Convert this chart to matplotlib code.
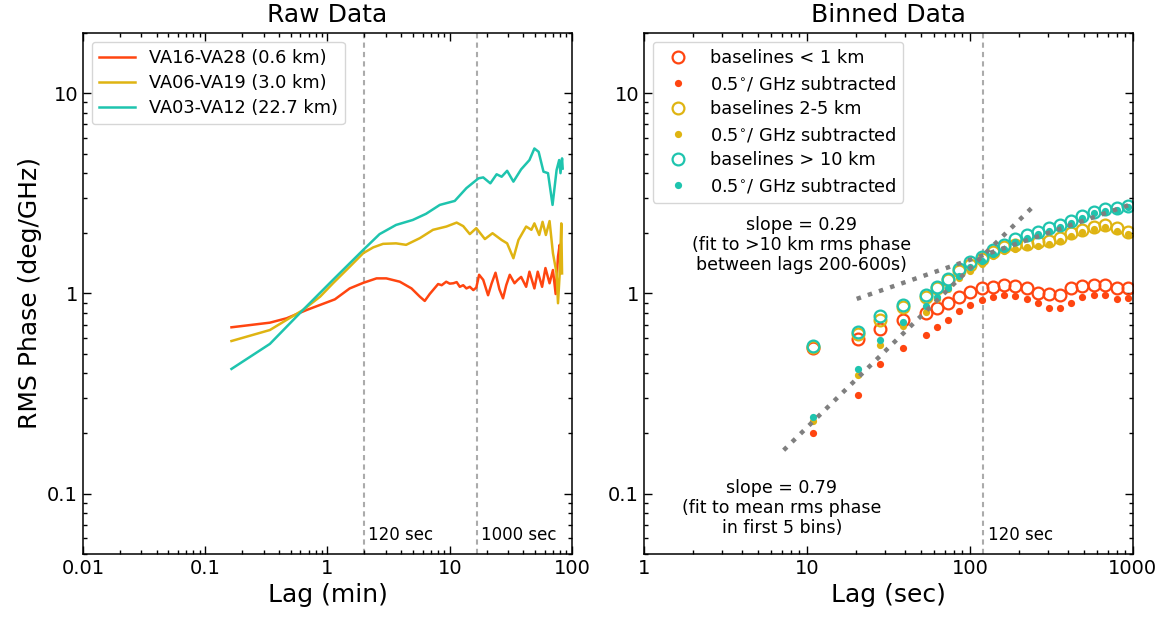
import matplotlib
matplotlib.use("Agg")
import matplotlib.pyplot as plt
from matplotlib.ticker import FixedLocator, FixedFormatter, LogLocator, NullFormatter

plt.rcParams['font.family'] = ['DejaVu Sans']

# ---------------- Raw data (lag in minutes, rms phase deg/GHz) ----------------
red_lag = [0.164, 0.338, 0.463, 0.675, 1.15, 1.52, 1.96, 2.52, 3.03, 3.91, 4.87, 5.7, 6.25,
           6.86, 7.4, 8.04, 8.6, 9.36, 10.0, 10.7, 11.4, 12.1, 12.9, 13.7, 14.6, 15.6, 16.5,
           17.4, 18.8, 20.6, 22.0, 23.7, 25.5, 27.3, 29.0, 31.0, 33.9, 36.0, 38.4, 42.2, 44.9,
           49.3, 52.5, 57.0, 60.7, 65.6, 69.9, 73.6, 76.9, 79.4, 80.6, 82.0]
red_val = [0.678, 0.715, 0.752, 0.827, 0.935, 1.06, 1.13, 1.19, 1.19, 1.145, 1.06, 0.964, 0.918,
           0.994, 1.05, 1.115, 1.10, 1.145, 1.12, 1.125, 1.14, 1.08, 1.10, 1.06, 1.08, 1.04, 1.07,
           1.24, 1.17, 0.98, 1.12, 1.27, 1.05, 0.946, 1.10, 1.24, 1.125, 1.17, 1.21, 1.08, 1.285,
           1.06, 1.285, 1.08, 1.34, 1.125, 1.31, 0.994, 1.53, 1.75, 1.26, 1.30]

yel_lag = [0.164, 0.338, 0.63, 0.87, 1.11, 1.52, 1.96, 2.37, 2.85, 3.64, 4.4, 5.7, 7.3, 9.4,
           11.4, 12.9, 14.6, 16.5, 19.4, 22.4, 26.6, 29.5, 33.2, 36.5, 42.2, 46.6, 49.3, 54.0,
           57.5, 61.2, 65.6, 69.9, 74.9, 76.9, 79.4, 81.8, 83.0]
yel_val = [0.579, 0.657, 0.827, 0.964, 1.125, 1.36, 1.59, 1.70, 1.77, 1.78, 1.75, 1.89, 2.08, 2.16,
           2.26, 2.17, 1.98, 2.12, 1.87, 2.0, 1.85, 1.78, 1.50, 1.85, 2.16, 2.08, 2.24, 1.96,
           2.28, 1.96, 2.30, 1.59, 1.26, 0.894, 1.26, 2.24, 1.26]

cya_lag = [0.164, 0.338, 0.63, 1.11, 1.96, 2.67, 3.64, 4.99, 6.4, 8.3, 11.0, 13.7, 17.2, 18.8,
           21.5, 24.2, 26.6, 29.5, 33.2, 38.4, 44.9, 49.3, 53.4, 58.5, 63.7, 69.4, 74.9, 78.6,
           80.6, 83.0, 84.0]
cya_val = [0.42, 0.56, 0.827, 1.17, 1.65, 1.98, 2.2, 2.33, 2.5, 2.77, 2.9, 3.36, 3.76, 3.8,
           3.55, 3.94, 3.83, 4.1, 3.62, 4.17, 4.64, 5.3, 5.1, 4.06, 3.99, 2.77, 4.14, 4.64,
           3.99, 4.73, 4.21]

raw_labels = ['VA16-VA28 (0.6 km)', 'VA06-VA19 (3.0 km)', 'VA03-VA12 (22.7 km)']

# ---------------- Binned data (lag in seconds) ----------------
bin_lag = [10.9, 20.5, 28.1, 38.8, 53.7, 62.8, 73.3, 85.6, 100, 118, 138, 162, 189, 224, 261,
           305, 357, 417, 487, 577, 673, 798, 931]
red_open = [0.537, 0.59, 0.667, 0.737, 0.796, 0.844, 0.894, 0.964, 1.02, 1.06, 1.08, 1.10, 1.09,
            1.06, 1.01, 0.99, 0.98, 1.06, 1.09, 1.10, 1.10, 1.07, 1.07]
red_sub = [0.20, 0.311, 0.445, 0.536, 0.62, 0.683, 0.737, 0.818, 0.876, 0.928, 0.957, 0.983, 0.97,
           0.94, 0.894, 0.85, 0.85, 0.894, 0.957, 0.983, 0.983, 0.935, 0.946]
yel_open = [0.54, 0.63, 0.74, 0.86, 0.96, 1.06, 1.17, 1.29, 1.39, 1.49, 1.62, 1.71, 1.75, 1.77,
            1.80, 1.83, 1.89, 2.00, 2.08, 2.15, 2.20, 2.12, 2.04]
yel_sub = [0.23, 0.39, 0.553, 0.69, 0.81, 0.935, 1.058, 1.189, 1.297, 1.404, 1.541, 1.635, 1.677,
           1.698, 1.729, 1.76, 1.823, 1.936, 2.019, 2.091, 2.142, 2.06, 1.978]
cya_open = [0.548, 0.644, 0.772, 0.873, 0.983, 1.08, 1.18, 1.32, 1.44, 1.53, 1.65, 1.75, 1.87,
            1.96, 2.04, 2.12, 2.2, 2.31, 2.44, 2.56, 2.63, 2.66, 2.74]
cya_sub = [0.241, 0.42, 0.586, 0.723, 0.866, 0.957, 1.069, 1.222, 1.35, 1.446, 1.572, 1.677, 1.802,
           1.895, 1.978, 2.06, 2.142, 2.255, 2.388, 2.511, 2.582, 2.613, 2.694]

bin_labels = ['baselines < 1 km', r'0.5$^{\circ}$/ GHz subtracted',
              'baselines 2-5 km', r'0.5$^{\circ}$/ GHz subtracted',
              'baselines > 10 km', r'0.5$^{\circ}$/ GHz subtracted']

# fitted power-law lines (endpoints)
fit_steep_lag = [7.2, 250]
fit_steep_val = [0.165, 2.77]
fit_shallow_lag = [20.2, 1000]
fit_shallow_val = [0.94, 2.81]

C_RED = '#ff4510'
C_YEL = '#dfb412'
C_CYA = '#1ec4ae'
C_GRID = '#ababab'

fig = plt.figure(figsize=(11.67, 6.24), dpi=100)
ax1 = fig.add_axes([0.0711, 0.1122, 0.4190, 0.8349])
ax2 = fig.add_axes([0.5518, 0.1122, 0.4190, 0.8349])


def style(ax, xt, xl):
    ax.set_xscale('log')
    ax.set_yscale('log')
    ax.set_ylim(0.05, 20)
    ax.xaxis.set_major_locator(FixedLocator(xt))
    ax.xaxis.set_major_formatter(FixedFormatter(xl))
    ax.xaxis.set_minor_locator(LogLocator(base=10, subs=range(2, 10), numticks=20))
    ax.xaxis.set_minor_formatter(NullFormatter())
    ax.yaxis.set_major_locator(FixedLocator([0.1, 1, 10]))
    ax.yaxis.set_major_formatter(FixedFormatter(['0.1', '1', '10']))
    ax.yaxis.set_minor_locator(LogLocator(base=10, subs=range(2, 10), numticks=20))
    ax.yaxis.set_minor_formatter(NullFormatter())
    ax.tick_params(which='both', direction='in', top=True, right=True, labelsize=14)
    ax.tick_params(which='major', length=6, width=1.0)
    ax.tick_params(which='minor', length=3, width=1.0)
    for s in ax.spines.values():
        s.set_linewidth(1.1)


def vline(ax, x):
    ax.axvline(x, color=C_GRID, ls=(0, (2.5, 2.0)), lw=1.5, zorder=1)


# ---- left panel ----
style(ax1, [0.01, 0.1, 1, 10, 100], ['0.01', '0.1', '1', '10', '100'])
ax1.set_xlim(0.01, 100)
ax1.plot(red_lag, red_val, color=C_RED, lw=1.8, label=raw_labels[0])
ax1.plot(yel_lag, yel_val, color=C_YEL, lw=1.8, label=raw_labels[1])
ax1.plot(cya_lag, cya_val, color=C_CYA, lw=1.8, label=raw_labels[2])
vline(ax1, 2.0)
vline(ax1, 1000 / 60.0)
ax1.text(2.0 * 1.08, 0.062, '120 sec', fontsize=12, va='center', ha='left')
ax1.text(1000 / 60.0 * 1.08, 0.062, '1000 sec', fontsize=12, va='center', ha='left')
ax1.set_title('Raw Data', fontsize=18, pad=8)
ax1.set_xlabel('Lag (min)', fontsize=18)
ax1.set_ylabel('RMS Phase (deg/GHz)', fontsize=18)
ax1.legend(loc='upper left', fontsize=12.8, labelspacing=0.4)

# ---- right panel ----
style(ax2, [1, 10, 100, 1000], ['1', '10', '100', '1000'])
ax2.set_xlim(1, 1000)
vline(ax2, 120)
ms_open, ms_fill, mew = 8.5, 5.2, 1.6
ax2.plot(bin_lag, red_open, ls='none', marker='o', ms=ms_open, mfc='none', mec=C_RED, mew=mew, label=bin_labels[0])
ax2.plot(bin_lag, red_sub, ls='none', marker='o', ms=ms_fill, mfc=C_RED, mec=C_RED, mew=0, label=bin_labels[1])
ax2.plot(bin_lag, yel_open, ls='none', marker='o', ms=ms_open, mfc='none', mec=C_YEL, mew=mew, label=bin_labels[2])
ax2.plot(bin_lag, yel_sub, ls='none', marker='o', ms=ms_fill, mfc=C_YEL, mec=C_YEL, mew=0, label=bin_labels[3])
ax2.plot(bin_lag, cya_open, ls='none', marker='o', ms=ms_open, mfc='none', mec=C_CYA, mew=mew, label=bin_labels[4])
ax2.plot(bin_lag, cya_sub, ls='none', marker='o', ms=ms_fill, mfc=C_CYA, mec=C_CYA, mew=0, label=bin_labels[5])
ax2.plot(fit_steep_lag, fit_steep_val, color='#7f7f7f', ls=':', lw=3.2)
ax2.plot(fit_shallow_lag, fit_shallow_val, color='#7f7f7f', ls=':', lw=3.2)
ax2.text(120 * 1.08, 0.062, '120 sec', fontsize=12, va='center', ha='left')
ax2.text(9.3, 1.75, 'slope = 0.29\n(fit to >10 km rms phase\nbetween lags 200-600s)',
         fontsize=12.5, ha='center', va='center', linespacing=1.15)
ax2.text(7.0, 0.085, 'slope = 0.79\n(fit to mean rms phase\nin first 5 bins)',
         fontsize=12.5, ha='center', va='center', linespacing=1.15)
ax2.set_title('Binned Data', fontsize=18, pad=8)
ax2.set_xlabel('Lag (sec)', fontsize=18)
ax2.legend(loc='upper left', fontsize=12.8, labelspacing=0.4, numpoints=1)

fig.savefig('out.png', dpi=100)
